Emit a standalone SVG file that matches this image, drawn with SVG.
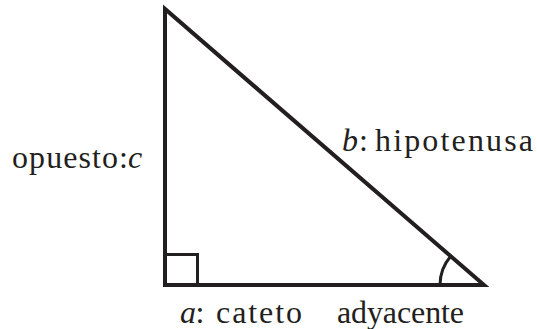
<svg xmlns="http://www.w3.org/2000/svg" width="537" height="329" viewBox="0 0 537 329">
<style>
.edge{fill:none;stroke:#231f20;stroke-width:4;stroke-linejoin:miter}
.thin{fill:none;stroke:#231f20;stroke-width:3}
.lbl{font-family:"Liberation Serif","Times New Roman",serif;font-size:32px;fill:#231f20}
.it{font-style:italic}
</style>
<rect width="537" height="329" fill="#ffffff"/>
<g id="triangle">
<polygon class="edge" points="165,9 165,285 484,285"/>
</g>
<g id="right-angle">
<rect class="thin" x="165" y="254.5" width="32.5" height="30.5"/>
</g>
<g id="angle-arc">
<path class="thin" d="M440,285 A44,44 0 0,1 450.7,256.2"/>
</g>
<g id="label-c">
<text class="lbl" x="12" y="168" textLength="116" lengthAdjust="spacing">opuesto:</text>
<text class="lbl it" x="128" y="168">c</text>
</g>
<g id="label-b">
<text class="lbl it" x="342" y="151">b</text>
<text class="lbl" x="359" y="151">:</text>
<text class="lbl" x="375" y="151" textLength="158" lengthAdjust="spacing">hipotenusa</text>
</g>
<g id="label-a">
<text class="lbl it" x="180" y="322.5">a</text>
<text class="lbl" x="195.5" y="322.5">:</text>
<text class="lbl" x="216" y="322.5" textLength="86" lengthAdjust="spacing">cateto</text>
<text class="lbl" x="337" y="322.5" textLength="127" lengthAdjust="spacing">adyacente</text>
</g>
</svg>
